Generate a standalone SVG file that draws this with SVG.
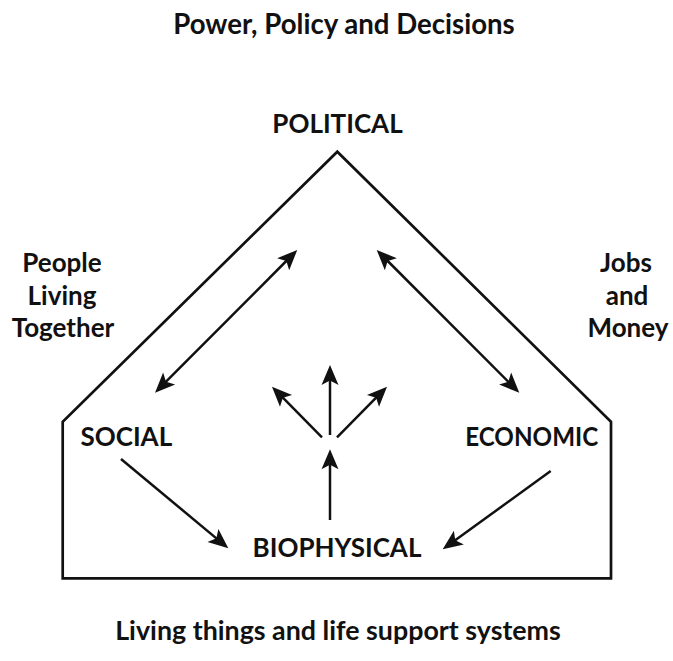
<svg xmlns="http://www.w3.org/2000/svg" width="673" height="661" viewBox="0 0 673 661">
<style>
text{font-family:Lato,"Noto Sans","Liberation Sans",sans-serif;font-weight:700;font-size:26px;fill:#111;text-anchor:middle}
.big{font-size:27.6px}
.frame{fill:none;stroke:#111;stroke-width:2.7;stroke-linejoin:miter}
.arr{fill:none;stroke:#111;stroke-width:2.5;marker-end:url(#ah)}
.dbl{marker-start:url(#ah)}
</style>
<defs>
<marker id="ah" markerUnits="userSpaceOnUse" viewBox="-21 -10 22 20" markerWidth="22" markerHeight="20" refX="-12" refY="0" orient="auto-start-reverse">
<path d="M0,0 L-20,-8.5 L-15.5,0 L-20,8.5 Z" fill="#111"/>
</marker>
</defs>
<rect width="673" height="661" fill="#fff"/>
<g id="frame"><path class="frame" d="M62.7,578.3 L62.7,421.7 L337.3,151.7 L611,421.7 L611,578.3 Z"/></g>
<g id="title"><text class="big" x="344" y="34">Power, Policy and Decisions</text></g>
<g id="political"><text x="337.5" y="133">POLITICAL</text></g>
<g id="people"><text x="62" y="272">People</text><text x="62" y="305">Living</text><text x="63" y="337">Together</text></g>
<g id="jobs"><text x="626" y="272">Jobs</text><text x="627" y="305">and</text><text x="628" y="337">Money</text></g>
<g id="social"><text x="126.3" y="445.7">SOCIAL</text></g>
<g id="economic"><text x="531.7" y="445.7" textLength="133" lengthAdjust="spacingAndGlyphs">ECONOMIC</text></g>
<g id="biophysical"><text x="337" y="557">BIOPHYSICAL</text></g>
<g id="footer"><text x="338" y="639.5" style="font-size:26.8px">Living things and life support systems</text></g>
<g id="connectors">
<path class="arr dbl" d="M163.5,384.2 L288.8,258.5"/>
<path class="arr dbl" d="M385.2,258.5 L510.8,384.2"/>
<path class="arr" d="M322,437.3 L280.4,395.2"/>
<path class="arr" d="M330,435 L330,377"/>
<path class="arr" d="M337,437.3 L378.6,395.2"/>
<path class="arr" d="M330,520 L330,461.3"/>
<path class="arr" d="M121,459 L219.1,540.6"/>
<path class="arr" d="M550.7,471 L452.4,542.3"/>
</g>
</svg>
